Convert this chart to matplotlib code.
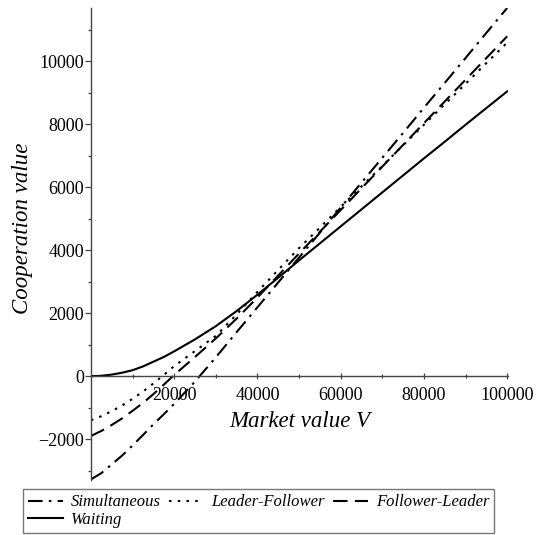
import numpy as np
import matplotlib.pyplot as plt
from matplotlib.ticker import MultipleLocator, FixedLocator

plt.rcParams['font.family'] = ['Liberation Serif', 'DejaVu Serif']

# market value grid (finer where the curves bend) and the four cooperation-value curves
V = [0, 2500, 5000, 7500, 10000, 12500, 15000, 17500, 20000, 25000, 30000, 35000,
     40000, 45000, 50000, 55000, 60000, 65000, 70000, 75000, 80000, 85000, 90000,
     95000, 100000]

simultaneous = [-3280, -3080, -2800, -2520, -2200, -1870, -1530, -1210, -880, -170,
                600, 1400, 2190, 2980, 3770, 4560, 5360, 6150, 6940, 7730, 8530,
                9320, 10110, 10910, 11700]
leader_follower = [-1400, -1270, -1110, -930, -720, -490, -230, 40, 320, 800,
                   1280, 1960, 2680, 3380, 4070, 4720, 5380, 6030, 6680, 7340, 7990,
                   8640, 9290, 9950, 10600]
follower_leader = [-1900, -1740, -1550, -1340, -1100, -850, -570, -270, 40, 610,
                   1200, 1830, 2500, 3200, 3900, 4590, 5280, 5970, 6660, 7350, 8040,
                   8730, 9420, 10110, 10800]
waiting = [0, 12, 50, 110, 190, 310, 460, 610, 790, 1170,
           1590, 2070, 2590, 3130, 3680, 4220, 4760, 5300, 5840, 6380, 6920,
           7450, 7990, 8520, 9050]

x_ticks = [20000, 40000, 60000, 80000, 100000]
y_ticks = [-2000, 0, 2000, 4000, 6000, 8000, 10000]

fig = plt.figure(figsize=(5.43, 5.35), dpi=100)
ax = fig.add_axes([91 / 543, 55 / 535, 417 / 543, 472 / 535])

lw = 1.5
l_sim, = ax.plot(V, simultaneous, color='black', lw=lw, dashes=(7, 3, 1.2, 3),
                 label='Simultaneous')
l_lf, = ax.plot(V, leader_follower, color='black', lw=lw, dashes=(1.2, 3),
                label='Leader-Follower')
l_fl, = ax.plot(V, follower_leader, color='black', lw=lw, dashes=(7, 3.5),
                label='Follower-Leader')
l_w, = ax.plot(V, waiting, color='black', lw=lw, label='Waiting')

ax.set_xlim(0, 100200)
ax.set_ylim(-3300, 11700)

# axes cross at the origin
for s in ['top', 'right']:
    ax.spines[s].set_visible(False)
ax.spines['left'].set_position(('data', 0))
ax.spines['bottom'].set_position(('data', 0))
for s in ['left', 'bottom']:
    ax.spines[s].set_color('#444444')
    ax.spines[s].set_linewidth(1.0)

ax.xaxis.set_major_locator(FixedLocator(x_ticks))
ax.xaxis.set_minor_locator(MultipleLocator(10000))
ax.yaxis.set_major_locator(FixedLocator(y_ticks))
ax.yaxis.set_minor_locator(MultipleLocator(1000))
ax.tick_params(axis='both', which='major', labelsize=13, color='#444444',
               length=4, width=0.9)
ax.tick_params(axis='both', which='minor', color='#444444', length=2.5, width=0.9)
ax.tick_params(axis='x', which='both', direction='inout', pad=6)
ax.tick_params(axis='y', which='both', direction='out', pad=1)

ax.set_xlabel('Market value V', fontsize=16.5, style='italic')
ax.xaxis.set_label_coords(0.5, 0.123, transform=ax.transAxes)
ax.xaxis.label.set_va('center')
ax.set_ylabel('Cooperation value', fontsize=16.5, style='italic')
ax.yaxis.set_label_coords(-0.165, 0.534, transform=ax.transAxes)
ax.yaxis.label.set_va('center')

fig.legend([l_sim, l_w, l_lf, l_fl],
           ['Simultaneous', 'Waiting', 'Leader-Follower', 'Follower-Leader'],
           ncol=3, loc='lower left', bbox_to_anchor=(23 / 543, 2 / 535),
           prop={'style': 'italic', 'size': 12}, frameon=True, fancybox=False,
           edgecolor='#555555', handlelength=2.1, handletextpad=0.45,
           columnspacing=0.5, labelspacing=0.1, borderpad=0.3,
           borderaxespad=0)

fig.savefig('out.png', dpi=100)
